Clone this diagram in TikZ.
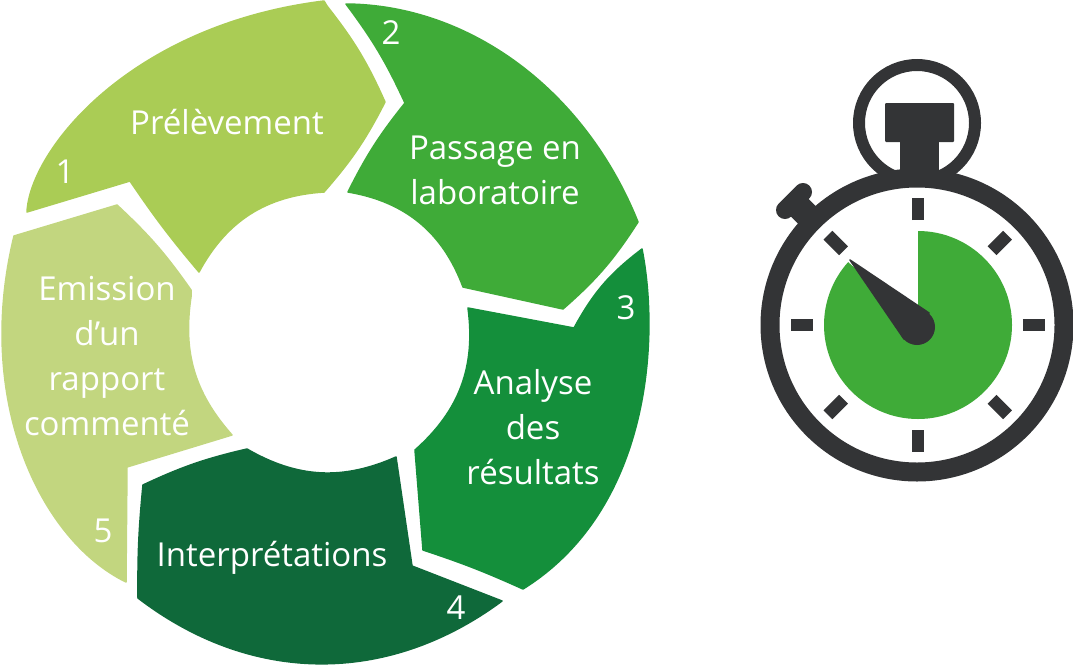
\documentclass[tikz,border=0pt]{standalone}
\usepackage{fontspec}
\setmainfont{Open Sans}
\definecolor{prelev}{HTML}{AACC55}
\definecolor{passage}{HTML}{3FAB38}
\definecolor{analyse}{HTML}{148F3B}
\definecolor{interp}{HTML}{0F693A}
\definecolor{emission}{HTML}{C2D67F}
\definecolor{watch}{HTML}{333436}
\tikzset{
  blade/.style={draw=#1,fill=#1,line width=1.5pt,line join=round},
  steplabel/.style={text=white,align=center,inner sep=0pt,font=\fontsize{33}{45}\selectfont},
  dialtick/.style={draw=watch,line width=12.5pt}
}
\begin{document}
\begin{tikzpicture}[x=1pt,y=-1pt]
  \useasboundingbox (0,0) rectangle (1073,664);
  \path[blade=prelev] (27,212) .. controls (30,150) and (130,25) .. (324,1) -- (327,6) to[bend left=7] (385,102)
    to[bend left=7] (324,192) to[bend right=29] (199,272) to[bend left=3] (130,181) -- cycle;
  \path[blade=passage] (346,4) .. controls (470,5) and (585,90) .. (638,222) to[bend left=8] (563,309) -- (463,287)
    to[bend right=30] (348,192) to[bend left=6] (405,103) to[bend right=6] cycle;
  \path[blade=analyse] (468,308) -- (574,328) to[bend left=12] (642,249) .. controls (660,340) and (650,510) .. (523,589)
    to[bend right=3] (423,550) -- (415,450) to[bend right=28] cycle;
  \path[blade=interp] (143,485) to[bend left=6] (247,449) to[bend right=27] (396,457) -- (412,566)
    -- (502,601) to[bend left=37] (138,598) to[bend left=3] cycle;
  \path[blade=emission] (14,236) -- (117,205) to[bend left=6] (191,290) -- (191,297)
    to[bend right=25] (232,435) -- (127,467) -- (126,582) .. controls (40,540) and (-26,400) .. cycle;

  \begin{scope}[every node/.style={steplabel}]
    \node (prelevement) at (227,122) {Prélèvement};
    \node (passagelab) at (495,170) {Passage en\\laboratoire};
    \node (resultats) at (533,427) {Analyse\\des\\résultats};
    \node (interpretations) at (272,558) {Interprétations};
    \node (rapport) at (107,356) {Emission\\d’un\\rapport\\commenté};
    \node (numA) at (65,172) {1};
    \node (numB) at (391,33) {2};
    \node (numC) at (626,308) {3};
    \node (numD) at (456,608) {4};
    \node (numE) at (103,531) {5};
  \end{scope}

  \draw[watch,line width=12pt] (917,123) circle (58);
  \fill[watch,rounded corners=1pt] (885,103) rectangle (954,142);
  \fill[watch] (900,140) rectangle (939,180);
  \draw[watch,line width=18pt,line cap=round] (785,210) -- (803,192);
  \draw[watch,line width=25pt] (795,203) -- (812,220);
  \draw[watch,fill=white,line width=19pt] (917,325) circle (147);
  \fill[passage] (918,325) -- (918,231) arc[start angle=-90,end angle=222,radius=94] -- cycle;
  \foreach \a in {0,45,...,315} {
    \draw[dialtick] (917.75,325) ++(\a:105) -- ++(\a:22);
  }
  \fill[watch] (917,327) circle (18);
  \path[blade=watch] (850,260) -- (929,313) -- (904,339) -- cycle;
\end{tikzpicture}
\end{document}
